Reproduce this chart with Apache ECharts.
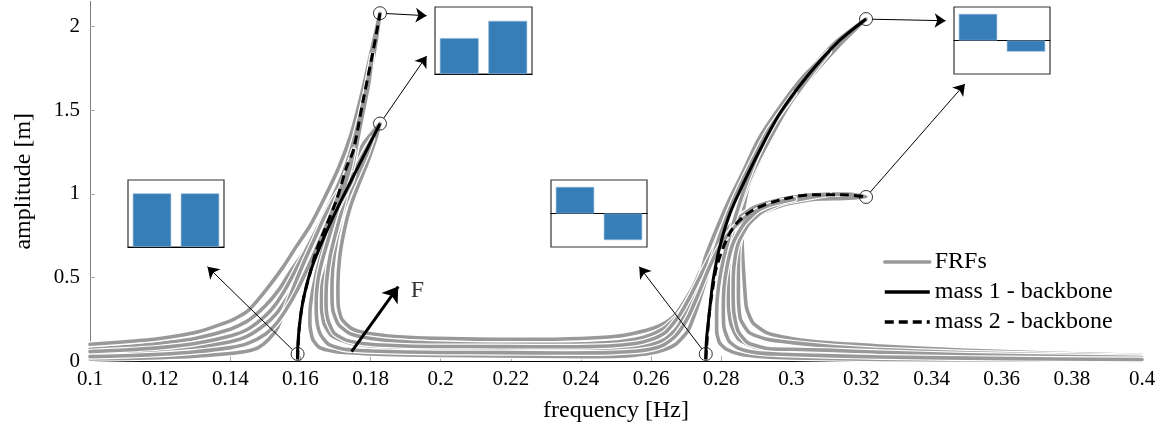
<!DOCTYPE html>
<html><head><meta charset="utf-8">
<script src="https://cdn.jsdelivr.net/npm/echarts@6/dist/echarts.min.js"></script>
<style>html,body{margin:0;padding:0;background:#fff}#c{width:1169px;height:433px}</style>
</head><body><div id="c"></div>
<script>
const FONT = "'Liberation Serif', 'Times New Roman', serif";
const yTickValues = [0, 0.5, 1, 1.5, 2];
const legendNames = ['FRFs', 'mass 1 - backbone', 'mass 2 - backbone'];

// FRF continuation curves: [frequency Hz, amplitude m] in path order
const frfA = [[0.100,0.070],[0.110,0.085],[0.120,0.106],[0.130,0.135],[0.140,0.190],[0.145,0.240],[0.150,0.330],[0.154,0.430],[0.157,0.530],[0.160,0.620],[0.163,0.710],[0.167,0.850],[0.171,1.000],[0.1745,1.150],[0.178,1.300],[0.1827,1.420],
 [0.1815,1.33],[0.179,1.18],[0.1765,1.05],[0.1742,0.92],[0.1725,0.78],[0.1712,0.62],[0.1707,0.45],[0.1708,0.33],[0.1718,0.25],[0.1745,0.195],[0.178,0.17],[0.185,0.15],[0.195,0.138],[0.21,0.131],[0.225,0.13],[0.24,0.135],[0.25,0.148],[0.2555,0.168],[0.2606,0.196],[0.2645,0.235],[0.2673,0.285],[0.272,0.444],[0.2758,0.624],[0.2796,0.803],[0.2834,0.963],[0.2863,1.083],[0.2898,1.26],[0.2957,1.48],[0.3036,1.70],[0.3123,1.90],[0.3213,2.045],
 [0.3133,1.88],[0.3048,1.68],[0.2973,1.46],[0.2921,1.25],[0.2878,1.05],[0.2862,0.88],[0.2860,0.7],[0.2865,0.5],[0.2872,0.32],[0.289,0.23],[0.2929,0.17],[0.30,0.135],[0.31,0.11],[0.3253,0.09],[0.35,0.064],[0.375,0.046],[0.4,0.034]];
const frfB = [[0.100,0.100],[0.110,0.115],[0.120,0.135],[0.130,0.170],[0.140,0.240],[0.145,0.300],[0.150,0.420],[0.155,0.560],[0.159,0.690],[0.1625,0.800],[0.1665,0.960],[0.171,1.160],[0.1745,1.360],[0.1775,1.600],[0.1802,1.850],[0.1827,2.080],
 [0.1815,1.90],[0.1792,1.62],[0.1768,1.36],[0.1745,1.12],[0.1722,0.90],[0.1703,0.72],[0.1692,0.55],[0.169,0.40],[0.1693,0.30],[0.1708,0.22],[0.174,0.165],[0.18,0.135],[0.19,0.115],[0.2,0.106],[0.217,0.10],[0.235,0.10],[0.248,0.11],[0.2555,0.13],[0.2597,0.155],[0.264,0.2],[0.268,0.28],[0.2715,0.4],[0.2745,0.52],[0.277,0.63],[0.2795,0.72],[0.2825,0.80],[0.2865,0.88],[0.2925,0.94],[0.300,0.978],[0.308,0.998],[0.316,0.998],[0.3213,0.981],
 [0.315,0.972],[0.307,0.968],[0.298,0.935],[0.2905,0.875],[0.2868,0.80],[0.2852,0.70],[0.2849,0.55],[0.2849,0.38],[0.2855,0.25],[0.288,0.17],[0.293,0.13],[0.30,0.11],[0.31,0.09],[0.3253,0.068],[0.35,0.049],[0.375,0.037],[0.4,0.027]];
const frfC = [[0.100,0.042],[0.110,0.050],[0.120,0.062],[0.130,0.080],[0.140,0.115],[0.145,0.150],[0.150,0.220],[0.153,0.280],[0.156,0.370],[0.159,0.470],[0.162,0.580],[0.1655,0.720],[0.169,0.870],[0.173,1.040],[0.177,1.200],[0.1805,1.330],
 [0.179,1.24],[0.1765,1.12],[0.174,1.0],[0.1715,0.86],[0.1695,0.72],[0.1678,0.58],[0.166,0.44],[0.166,0.32],[0.1668,0.22],[0.169,0.15],[0.1735,0.11],[0.18,0.09],[0.19,0.078],[0.2,0.072],[0.217,0.07],[0.235,0.068],[0.248,0.072],[0.2555,0.082],[0.2597,0.096],[0.264,0.13],[0.2675,0.2],[0.2705,0.32],[0.2735,0.46],[0.2755,0.62],[0.2785,0.78],[0.282,0.95],[0.286,1.12],[0.2905,1.32],[0.2968,1.52],[0.3034,1.70],[0.3108,1.85],
 [0.3055,1.71],[0.2996,1.54],[0.2944,1.35],[0.2897,1.16],[0.2862,0.98],[0.2838,0.82],[0.2825,0.66],[0.282,0.5],[0.282,0.35],[0.2828,0.22],[0.285,0.13],[0.29,0.08],[0.298,0.06],[0.31,0.05],[0.3253,0.038],[0.35,0.027],[0.375,0.02],[0.4,0.015]];
const frfD = [[0.100,0.056],[0.110,0.066],[0.120,0.080],[0.130,0.105],[0.140,0.150],[0.145,0.190],[0.150,0.270],[0.153,0.340],[0.156,0.440],[0.159,0.560],[0.162,0.680],[0.1655,0.820],[0.169,0.970],[0.1725,1.140],[0.1755,1.340],[0.1785,1.600],[0.1805,1.830],
 [0.1795,1.66],[0.1772,1.42],[0.1752,1.2],[0.1728,0.98],[0.1705,0.8],[0.1685,0.63],[0.1675,0.48],[0.1673,0.35],[0.1678,0.25],[0.1695,0.17],[0.173,0.125],[0.18,0.1],[0.19,0.09],[0.2,0.087],[0.217,0.086],[0.235,0.085],[0.248,0.09],[0.2555,0.105],[0.2597,0.126],[0.264,0.17],[0.268,0.27],[0.2715,0.4],[0.2748,0.54],[0.2778,0.66],[0.2808,0.76],[0.2845,0.85],[0.2895,0.92],[0.2965,0.965],[0.304,0.99],[0.3108,0.998],
 [0.3045,0.975],[0.2975,0.945],[0.2915,0.89],[0.2875,0.81],[0.2848,0.70],[0.2836,0.56],[0.2834,0.42],[0.2836,0.29],[0.2848,0.18],[0.2875,0.11],[0.293,0.075],[0.30,0.07],[0.31,0.065],[0.3253,0.052],[0.35,0.037],[0.375,0.028],[0.4,0.021]];
const frfE = [[0.100,0.012],[0.120,0.020],[0.130,0.028],[0.140,0.045],[0.145,0.060],[0.148,0.080],[0.151,0.130],[0.1535,0.200],[0.156,0.330],[0.1588,0.480],[0.1612,0.600],[0.1638,0.720],[0.1668,0.860],[0.1705,1.000],[0.1752,1.120],
 [0.1745,1.07],[0.172,0.97],[0.1695,0.85],[0.1672,0.72],[0.1652,0.58],[0.1637,0.44],[0.1628,0.32],[0.1627,0.22],[0.1635,0.13],[0.1655,0.08],[0.17,0.055],[0.18,0.042],[0.19,0.036],[0.2,0.033],[0.217,0.03],[0.235,0.027],[0.245,0.026],[0.2511,0.028],[0.2555,0.035],[0.2597,0.046],[0.2635,0.065],[0.267,0.1],[0.2705,0.18],[0.2728,0.3],[0.2748,0.43],[0.277,0.58],[0.2798,0.76],[0.2835,0.96],[0.288,1.16],[0.2935,1.38],[0.3009,1.6],
 [0.2955,1.44],[0.2905,1.24],[0.2868,1.04],[0.284,0.86],[0.2815,0.68],[0.2798,0.52],[0.2789,0.38],[0.2787,0.26],[0.2787,0.18],[0.2795,0.11],[0.2815,0.07],[0.2855,0.04],[0.292,0.025],[0.30,0.018],[0.3253,0.01],[0.35,0.007],[0.375,0.005],[0.4,0.004]];
const frfF = [[0.100,0.026],[0.110,0.031],[0.120,0.040],[0.130,0.055],[0.140,0.080],[0.145,0.105],[0.150,0.160],[0.153,0.220],[0.156,0.310],[0.159,0.420],[0.1615,0.530],[0.1645,0.670],[0.168,0.840],[0.171,1.000],[0.1735,1.150],[0.1752,1.260],
 [0.1742,1.16],[0.1722,1.02],[0.17,0.87],[0.168,0.73],[0.1662,0.6],[0.1649,0.47],[0.1645,0.35],[0.1647,0.24],[0.1657,0.16],[0.168,0.1],[0.1725,0.07],[0.18,0.06],[0.19,0.054],[0.2,0.051],[0.217,0.05],[0.235,0.048],[0.248,0.05],[0.2555,0.058],[0.2597,0.07],[0.2635,0.095],[0.267,0.15],[0.2705,0.26],[0.2735,0.4],[0.2762,0.54],[0.2792,0.67],[0.2828,0.78],[0.2875,0.87],[0.2935,0.93],[0.3009,0.968],
 [0.296,0.95],[0.2905,0.9],[0.2865,0.82],[0.2835,0.71],[0.2818,0.58],[0.2808,0.44],[0.2806,0.31],[0.2808,0.2],[0.2822,0.12],[0.285,0.075],[0.29,0.05],[0.297,0.04],[0.31,0.032],[0.3253,0.024],[0.35,0.017],[0.375,0.012],[0.4,0.009]];

// backbone curves
const backboneMass1Mode1 = [[0.1592,0.01],[0.1592,0.046],[0.1597,0.205],[0.1608,0.365],[0.1627,0.525],[0.1656,0.684],[0.1694,0.863],[0.1741,1.063],[0.1789,1.262],[0.1827,1.42]];
const backboneMass2Mode1 = [[0.1592,0.01],[0.1597,0.205],[0.1608,0.365],[0.1627,0.52],[0.1646,0.664],[0.1665,0.764],[0.1703,0.963],[0.1732,1.162],[0.1751,1.26],[0.1779,1.56],[0.1808,1.86],[0.1827,2.08]];
const backboneMass1Mode2 = [[0.2756,0.01],[0.2758,0.126],[0.2766,0.285],[0.2777,0.484],[0.2796,0.684],[0.2825,0.883],[0.2863,1.06],[0.2910,1.26],[0.2967,1.48],[0.3044,1.70],[0.3129,1.90],[0.3213,2.045]];
const backboneMass2Mode2 = [[0.2756,0.01],[0.2766,0.285],[0.2777,0.45],[0.2787,0.564],[0.2815,0.724],[0.2844,0.824],[0.2891,0.903],[0.2967,0.963],[0.3062,0.995],[0.3158,0.993],[0.3213,0.981]];

// annotations
const markedPoints = [[0.1592,0.042],[0.1827,1.42],[0.1827,2.08],[0.2756,0.042],[0.3213,2.045],[0.3213,0.981]];
const pointerArrows = [
  [[0.15768,0.0688],[0.1335,0.564]],
  [[0.18454,2.078],[0.196,2.065]],
  [[0.18375,1.4516],[0.196,1.824]],
  [[0.27448,0.073],[0.25663,0.564]],
  [[0.32315,2.044],[0.344,2.035]],
  [[0.32252,1.0102],[0.3495,1.657]]
];
const forceArrow = [[0.1746,0.056],[0.1879,0.445]];
const forceLabelPos = [0.1934,0.422];
const forceLabel = 'F';

// mode shape insets
const insetCategories = ['mass 1','mass 2'];
const modeShapes = [[1,1],[0.675,1],[1,-1],[1,-0.42]];
const insetRanges = [[0,1.25],[0,1.26],[-1.26,1.26],[-1.26,1.26]];
const insetBoxes = [{left:128,top:180,width:96,height:67},{left:435,top:7,width:97,height:67},{left:551,top:180,width:96,height:67},{left:954,top:7,width:96,height:67}];

const series = [];
[frfA, frfB, frfC, frfD, frfE, frfF].forEach(function(c){
  series.push({type:'line', name:'edge', data:c, symbol:'none', smooth:0.2, silent:true,
    lineStyle:{color:'#ffffff', width:6, cap:'round', join:'round'}});
  series.push({type:'line', name:'FRFs', data:c, symbol:'none', smooth:0.2,
    lineStyle:{color:'#999999', width:3.6, cap:'round', join:'round'}, itemStyle:{color:'#999999'}});
});
series.push({type:'line', name:'mass 2 - backbone', data:backboneMass2Mode1, symbol:'none', smooth:0.3,
  lineStyle:{color:'#000', width:3, type:[9,5]}, itemStyle:{color:'#000'}});
series.push({type:'line', name:'mass 2 - backbone', data:backboneMass2Mode2, symbol:'none', smooth:0.3,
  lineStyle:{color:'#000', width:3, type:[9,5]}, itemStyle:{color:'#000'}});
series.push({type:'line', name:'mass 1 - backbone', data:backboneMass1Mode1, symbol:'none', smooth:0.3,
  lineStyle:{color:'#000', width:3}, itemStyle:{color:'#000'}});
series.push({type:'line', name:'mass 1 - backbone', data:backboneMass1Mode2, symbol:'none', smooth:0.3,
  lineStyle:{color:'#000', width:3}, itemStyle:{color:'#000'}});
series.push({type:'scatter', name:'points', data:markedPoints, symbol:'circle', symbolSize:13, z:5,
  itemStyle:{color:'rgba(255,255,255,0)', borderColor:'#000', borderWidth:1}});
series.push({type:'lines', coordinateSystem:'cartesian2d', name:'pointers', z:6,
  data:pointerArrows.map(function(a){return {coords:a};}),
  symbol:['none','arrow'], symbolSize:[0,11], lineStyle:{color:'#000', width:1, opacity:1}});
series.push({type:'lines', coordinateSystem:'cartesian2d', name:'force', z:6,
  data:[{coords:forceArrow}], symbol:['none','arrow'], symbolSize:[0,15], lineStyle:{color:'#000', width:3, opacity:1}});
series.push({type:'scatter', name:'forceLabel', data:[forceLabelPos], symbolSize:1, z:6,
  itemStyle:{color:'rgba(0,0,0,0)'},
  label:{show:true, formatter:forceLabel, position:'inside', fontFamily:FONT, fontSize:24, color:'#000'}});

const grids = [{left:90, top:1.5, width:1052, height:359.5}];
const xAxes = [{type:'value', gridIndex:0, min:0.1, max:0.4, interval:0.02,
  name:'frequency [Hz]', nameLocation:'middle', nameGap:38,
  nameTextStyle:{fontFamily:FONT, fontSize:24, color:'#000'},
  axisLine:{onZero:false, lineStyle:{color:'#000', width:1}},
  axisTick:{inside:true, length:5, lineStyle:{color:'#aaa'}},
  axisLabel:{fontFamily:FONT, fontSize:21, color:'#000', margin:8,
    formatter:function(v){return String(parseFloat(v.toFixed(2)));}},
  splitLine:{show:false}}];
const yAxes = [{type:'value', gridIndex:0, min:0, max:2.15,
  name:'amplitude [m]', nameLocation:'middle', nameGap:54, nameRotate:90,
  nameTextStyle:{fontFamily:FONT, fontSize:24, color:'#000'},
  axisLine:{show:true, onZero:false, lineStyle:{color:'#808080', width:1}},
  axisTick:{show:true, inside:true, length:5, customValues:yTickValues, lineStyle:{color:'#aaa'}},
  axisLabel:{fontFamily:FONT, fontSize:21, color:'#000', margin:10, customValues:yTickValues},
  splitLine:{show:false}}];

insetBoxes.forEach(function(b, i){
  const gi = i + 1;
  grids.push(Object.assign({show:true, borderColor:'#333', borderWidth:1.2, backgroundColor:'#fff'}, b));
  xAxes.push({type:'category', gridIndex:gi, data:insetCategories,
    axisLine:{show:true, onZero:true, lineStyle:{color:'#000', width:1.2}},
    axisTick:{show:false}, axisLabel:{show:false}, splitLine:{show:false}});
  yAxes.push({type:'value', gridIndex:gi, min:insetRanges[i][0], max:insetRanges[i][1],
    axisLine:{show:false}, axisTick:{show:false}, axisLabel:{show:false}, splitLine:{show:false}});
  series.push({type:'bar', name:'mode shape ' + gi, xAxisIndex:gi, yAxisIndex:gi, data:modeShapes[i],
    barCategoryGap:'20%', itemStyle:{color:'#377eb8', borderColor:'#8fb6da', borderWidth:0.6}});
});

const chart = echarts.init(document.getElementById('c'), null, {renderer:'canvas'});
chart.setOption({
  animation:false,
  backgroundColor:'#fff',
  textStyle:{fontFamily:FONT},
  grid:grids, xAxis:xAxes, yAxis:yAxes,
  legend:{data:legendNames, orient:'vertical', left:878, top:245, itemWidth:45, itemHeight:14, itemGap:6,
    selectedMode:false, itemStyle:{opacity:0}, lineStyle:{width:3.5},
    textStyle:{fontFamily:FONT, fontSize:24, color:'#000'}},
  series:series
});
</script></body></html>
